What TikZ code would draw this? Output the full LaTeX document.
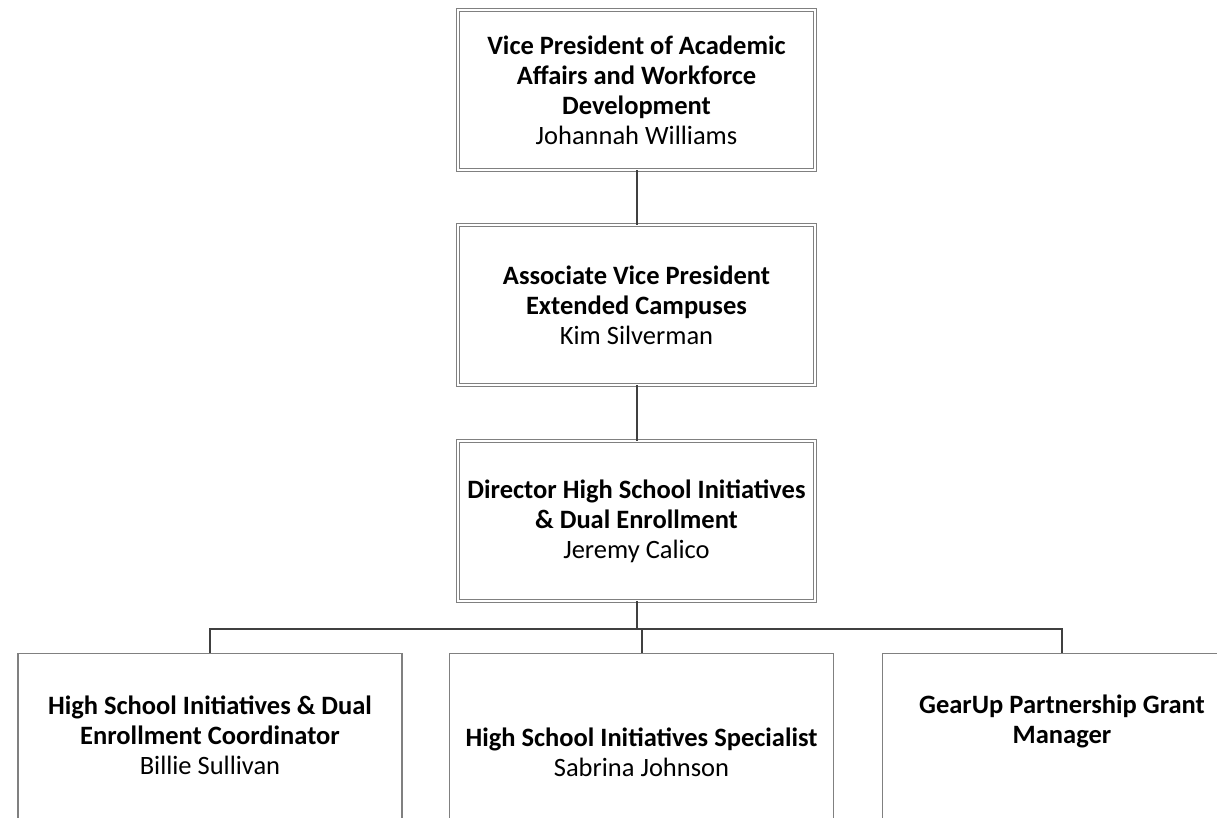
\documentclass[tikz,border=0pt]{standalone}
\usepackage{fontspec}
\setmainfont{Carlito}
\usepackage{xcolor}
\usepackage{tikz}
\usetikzlibrary{positioning}

\definecolor{boxline}{HTML}{808080}
\definecolor{linkline}{HTML}{404040}

\begin{document}
\begin{tikzpicture}[x=1pt, y=-1pt,
    topbox/.style={draw=boxline, double, double distance=2.6pt, line width=0.9pt,
                   minimum width=357pt, minimum height=160pt, align=center,
                   font=\fontsize{26.5}{30}\selectfont, inner sep=0pt},
    staffbox/.style={draw=boxline, line width=1.2pt,
                     minimum width=384pt, minimum height=200pt, inner sep=0pt},
    staff/.style={align=center, font=\fontsize{26.5}{30}\selectfont},
    link/.style={draw=linkline, line width=2pt}
  ]
  \useasboundingbox (0,0) rectangle (1217,817);
  \clip (0,0) rectangle (1217,817);

  \node[topbox] (vp) at (636.5,90)
    {\textbf{Vice President of Academic}\\\textbf{Affairs and Workforce}\\\textbf{Development}\\Johannah Williams};
  \node[topbox] (avp) at (636.5,305)
    {\textbf{Associate Vice President}\\\textbf{Extended Campuses}\\Kim Silverman};
  \node[topbox] (dir) at (636.5,521)
    {\textbf{Director High School Initiatives}\\\textbf{\& Dual Enrollment}\\Jeremy Calico};

  \node[staffbox, anchor=north] (coord) at (210,653) {};
  \node[staffbox, anchor=north] (spec) at (641.5,653) {};
  \node[staffbox, anchor=north west] (gear) at (882,653) {};

  \node[staff] (coordT) at (210,735)
    {\textbf{High School Initiatives \& Dual}\\\textbf{Enrollment Coordinator}\\Billie Sullivan};
  \node[staff] (specT) at (641.5,752)
    {\textbf{High School Initiatives Specialist}\\Sabrina Johnson};
  \node[staff] (gearT) at (1062,721)
    {\textbf{GearUp Partnership Grant}\\\textbf{Manager}};

  \coordinate (bus) at (636.5,629);
  \coordinate (gearTop) at (1062,653);
  \draw[link] (vp) -- (avp);
  \draw[link] (avp) -- (dir);
  \draw[link] (dir) -- (bus);
  \draw[link] (coord.north) |- (bus) -| (gearTop);
  \draw[link] (spec.north) -- (spec.north |- bus);
\end{tikzpicture}
\end{document}
